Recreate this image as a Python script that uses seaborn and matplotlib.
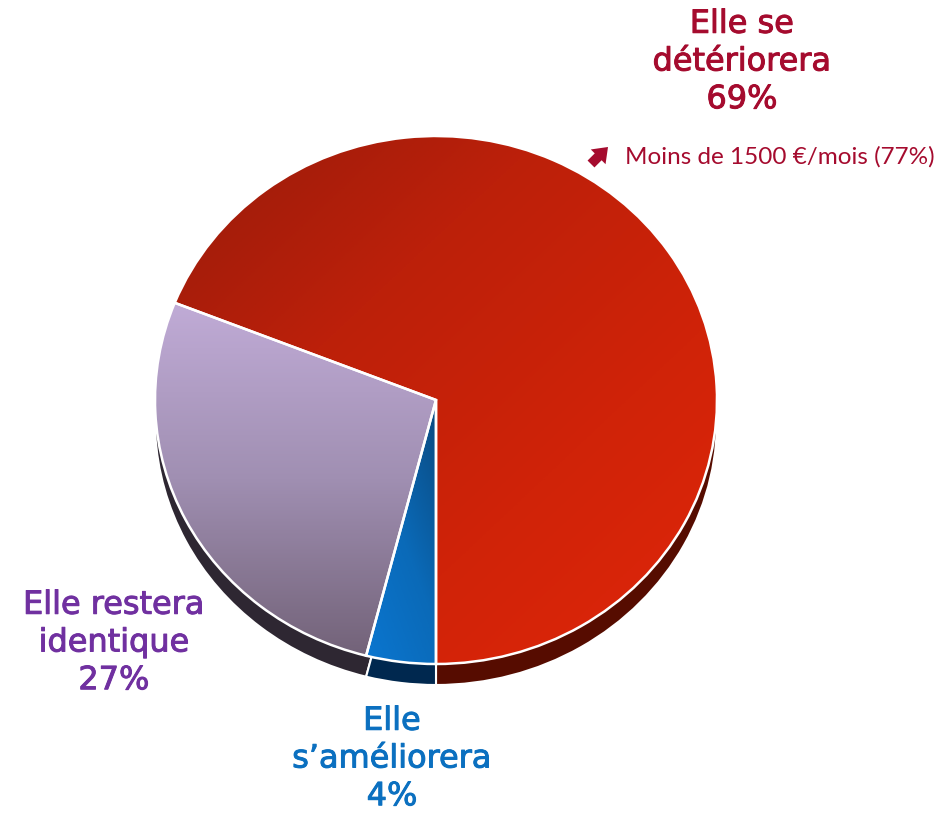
import numpy as np
import matplotlib
matplotlib.use("Agg")
import matplotlib.pyplot as plt
import matplotlib.patheffects as pe
from matplotlib.patches import FancyArrowPatch
import seaborn as sns

categories = ["Elle se\ndétériorera\n69%", "Elle restera\nidentique\n27%", "Elle\ns’améliorera\n4%"]
values = [69, 27, 4]
note = "Moins de 1500 €/mois (77%)"
text_colors = ["#A50B2E", "#7030A0", "#0B70C0"]
side_colors = ["#560C00", "#2E2732", "#00284F"]
grad_stops = [["#981B0A", "#BC200A", "#D02308", "#E0260A"],
              ["#C0ABD6", "#A08FB2", "#736379"],
              ["#0A76D0", "#0A6AB8", "#0B4A80"]]
grad_dirs = [(0.7, -0.7), (0, -1), (1, 0.35)]

W, H = 944, 815
sns.set_theme(style="white")
fig = plt.figure(figsize=(W / 100, H / 100), dpi=100, facecolor="white")
cx, cy, rx, ry = 436, 400, 281, 264
ax = fig.add_axes([(cx - 1.1 * rx) / W, (H - cy - 1.1 * ry) / H, 2.2 * rx / W, 2.2 * ry / H])

depth = 21 / ry
side, _ = ax.pie(values, startangle=270, colors=side_colors, center=(0, -depth),
                 wedgeprops=dict(edgecolor="white", linewidth=1.5))
top, _ = ax.pie(values, startangle=270, colors=["none"] * 3,
                wedgeprops=dict(edgecolor="white", linewidth=1.8, zorder=5))
xx, yy = np.meshgrid(np.linspace(-1, 1, 400), np.linspace(-1, 1, 400))
for wedge, stops, (dx, dy) in zip(top, grad_stops, grad_dirs):
    t = xx * dx + yy * dy
    # normalise the gradient over the wedge's bounding box
    bb = wedge.get_path().transformed(wedge.get_patch_transform()).get_extents()
    mask = (xx >= bb.x0) & (xx <= bb.x1) & (yy >= bb.y0) & (yy <= bb.y1)
    t = (t - t[mask].min()) / (t[mask].max() - t[mask].min())
    im = ax.imshow(np.clip(t, 0, 1), extent=(-1, 1, -1, 1), origin="lower", aspect="auto",
                   cmap=sns.blend_palette(stops, as_cmap=True), vmin=0, vmax=1, zorder=2)
    im.set_clip_path(wedge)
ax.set_xlim(-1.1, 1.1)
ax.set_ylim(-1.1, 1.1)
ax.set_aspect("auto")
ax.axis("off")

def place(x, y, s, color):
    fig.text(x / W, 1 - y / H, s, ha="center", va="center", color=color, family="DejaVu Sans",
             fontsize=23, linespacing=1.28,
             path_effects=[pe.withStroke(linewidth=0.7, foreground=color)])

place(742, 62, categories[0], text_colors[0])
place(114, 643, categories[1], text_colors[1])
place(392, 759, categories[2], text_colors[2])
fig.text(625 / W, 1 - 157 / H, note, color=text_colors[0], family="Lato", fontsize=17.5,
         ha="left", va="center")
fig.add_artist(FancyArrowPatch(
    (591 / W, 1 - 164 / H), (608 / W, 1 - 147 / H), transform=fig.transFigure,
    arrowstyle="simple,head_length=10,head_width=15,tail_width=7",
    mutation_scale=1, color=text_colors[0], lw=0, shrinkA=0, shrinkB=0))
fig.savefig("out.png", dpi=100, facecolor="white")
